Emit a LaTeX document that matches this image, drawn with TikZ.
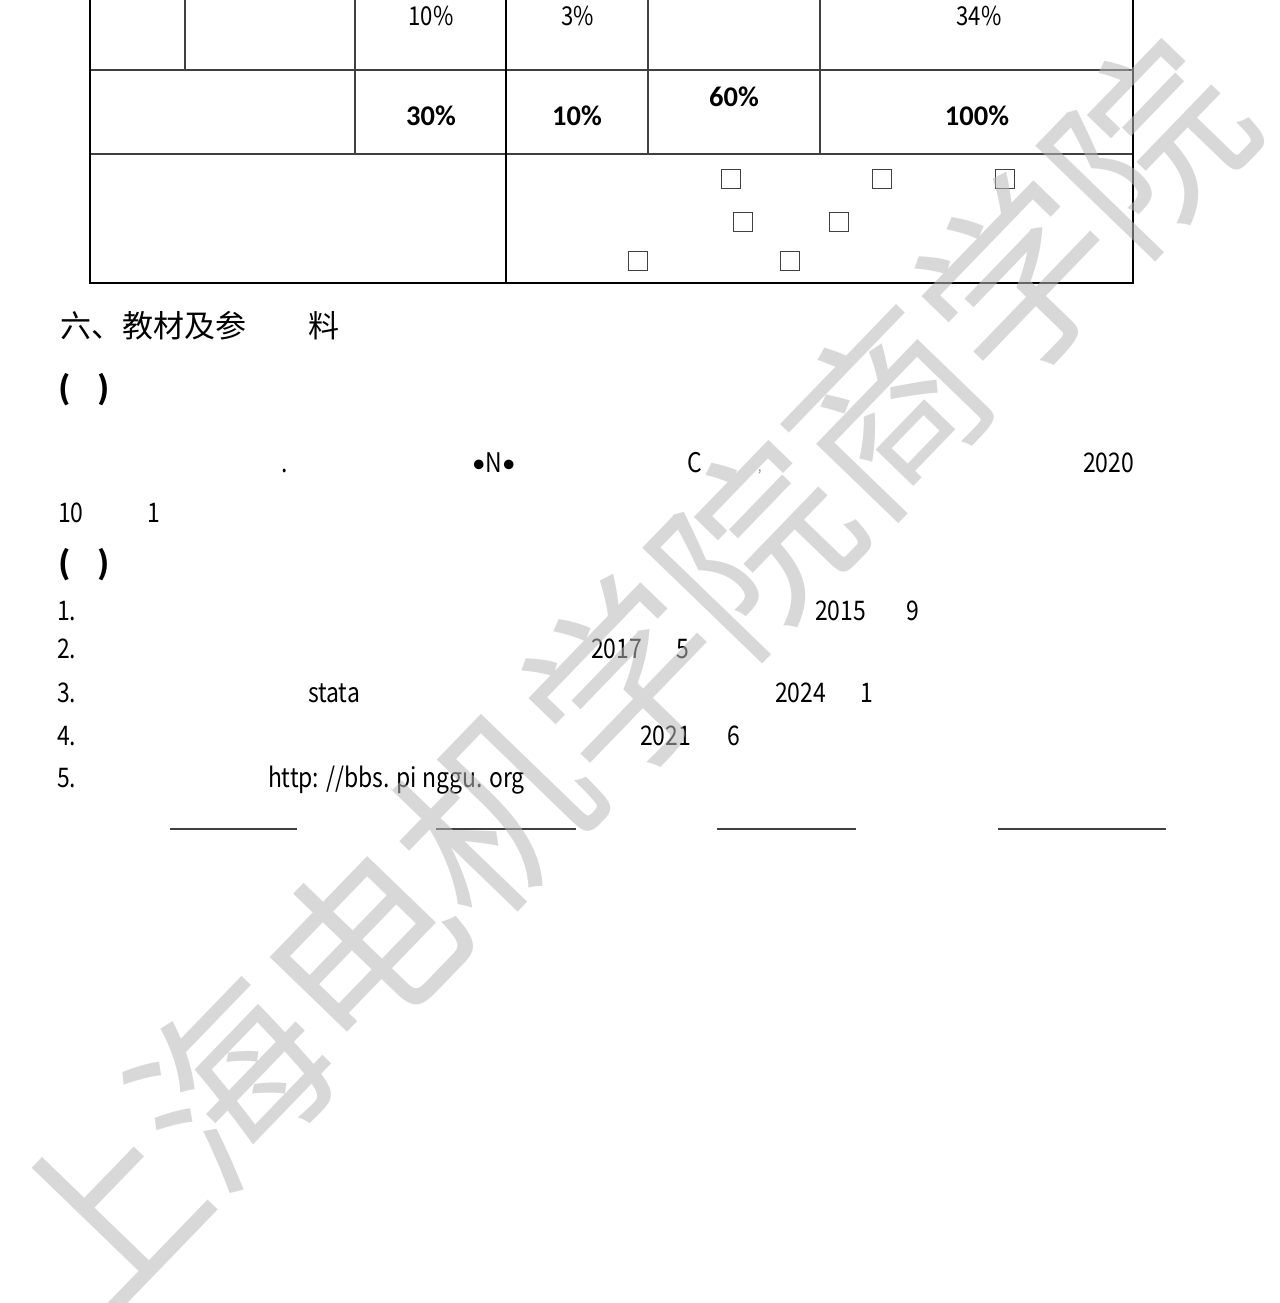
\documentclass[tikz,border=0pt]{standalone}
\usepackage{fontspec}
\newfontfamily\cjkfont{Noto Sans CJK SC}
\newfontfamily\narrowfont[FakeStretch=0.85]{Noto Sans CJK SC}
\newfontfamily\pctfont{Carlito}
\definecolor{wmgray}{RGB}{185,185,185}
\definecolor{rulegray}{RGB}{64,64,64}

\begin{document}
\begin{tikzpicture}[
        x=1pt, y=-1pt,
        every node/.style={inner sep=0pt, outer sep=0pt},
        rule/.style={draw=rulegray, line width=1.6pt},
        border/.style={draw=black, line width=1.6pt},
        lighttxt/.style={font=\narrowfont\fontsize{26}{30}\selectfont},
        bodytxt/.style={anchor=base west, font=\narrowfont\fontsize{27}{32}\selectfont},
        boldpct/.style={font=\pctfont\bfseries\fontsize{28.5}{32}\selectfont},
        headtxt/.style={anchor=west, font=\cjkfont\fontsize{31}{36}\selectfont},
        parentxt/.style={anchor=west, font=\cjkfont\bfseries\fontsize{31}{36}\selectfont},
        chkbox/.style={draw=rulegray, line width=1.2pt, minimum size=19pt},
        blank/.style={draw=rulegray, line width=1.5pt},
        wmark/.style={text=wmgray, text opacity=0.55, rotate=46,
            font=\cjkfont\fontsize{190}{190}\selectfont},
    ]
    \fill[white] (0,0) rectangle (1279,1303);
    \useasboundingbox (0,0) rectangle (1279,1303);

    % table
    \draw[rule] (185,0) -- (185,70);
    \draw[rule] (355,0) -- (355,154);
    \draw[rule] (648,0) -- (648,154);
    \draw[rule] (820,0) -- (820,154);
    \draw[rule] (90,70) -- (1133,70);
    \draw[rule] (90,154) -- (1133,154);
    \draw[border] (506,0) -- (506,283);
    \draw[border] (90,0) -- (90,283) -- (1133,283) -- (1133,0);

    \node[lighttxt] (p1) at (431,16) {10\%};
    \node[lighttxt] (p2) at (578,16) {3\%};
    \node[lighttxt] (p3) at (979,16) {34\%};
    \node[boldpct] (w1) at (431,116) {30\%};
    \node[boldpct] (w2) at (577,116) {10\%};
    \node[boldpct] (w3) at (734,97) {60\%};
    \node[boldpct] (w4) at (977,116) {100\%};

    \foreach \bx/\by [count=\i] in {731/179, 882/179, 1005/179, 743/222,
            839/222, 638/261, 790/261}
        \node[chkbox] (cb\i) at (\bx,\by) {};

    % text below the table
    \node[headtxt] (sec) at (60,326) {六、教材及参　　料};
    \node[parentxt] (sub1) at (58,390) {(\hspace{27pt})};
    \node[bodytxt] (t1a) at (281,472) {.};
    \node[bodytxt] (t1b) at (472,472) {{\pctfont •}N{\pctfont •}};
    \node[bodytxt] (t1c) at (687,472) {C};
    \node[bodytxt, text=gray, font=\narrowfont\fontsize{14}{16}\selectfont] (t1d) at (758,471) {,};
    \node[bodytxt] (t1e) at (1083,472) {2020};
    \node[bodytxt] (t2a) at (58,522) {10};
    \node[bodytxt] (t2b) at (147,522) {1};
    \node[parentxt] (sub2) at (58,565) {(\hspace{27pt})};

    \node[bodytxt] (r1) at (57,620) {1.};
    \node[bodytxt] (r1a) at (815,620) {2015};
    \node[bodytxt] (r1b) at (906,620) {9};
    \node[bodytxt] (r2) at (57,658) {2.};
    \node[bodytxt] (r2a) at (591,658) {2017};
    \node[bodytxt] (r2b) at (676,658) {5};
    \node[bodytxt] (r3) at (57,702) {3.};
    \node[bodytxt] (r3a) at (308,702) {stata};
    \node[bodytxt] (r3b) at (775,702) {2024};
    \node[bodytxt] (r3c) at (860,702) {1};
    \node[bodytxt] (r4) at (57,745) {4.};
    \node[bodytxt] (r4a) at (640,745) {2021};
    \node[bodytxt] (r4b) at (727,745) {6};
    \node[bodytxt] (r5) at (57,787) {5.};
    \node[bodytxt] (r5a) at (268,787) {http: //bbs. pi nggu. org};

    % signature blanks
    \draw[blank] (170,829) -- (297,829);
    \draw[blank] (436,829) -- (576,829);
    \draw[blank] (717,829) -- (856,829);
    \draw[blank] (998,829) -- (1166,829);

    % watermark
    \foreach \ch [count=\k from 0] in {上,海,电,机,学,院,商,学,院}
        \node[wmark] (wm\k) at ({100+131*\k},{1215-134*\k}) {\ch};
\end{tikzpicture}
\end{document}
